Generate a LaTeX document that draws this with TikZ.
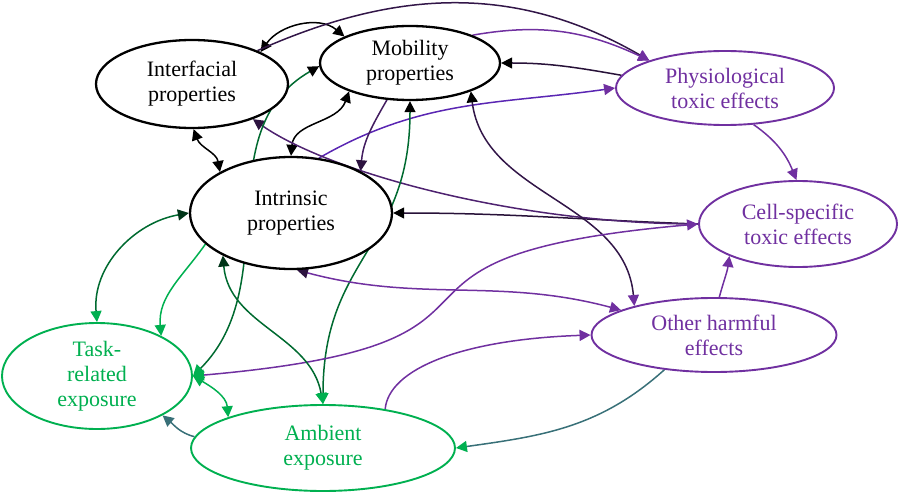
\documentclass[tikz,border=0pt]{standalone}
\usepackage{fontspec}
\setmainfont{Liberation Serif}
\usetikzlibrary{shapes.geometric, arrows.meta, backgrounds}

\definecolor{purp}{RGB}{112,48,160}
\definecolor{grn}{RGB}{0,176,80}

\begin{document}
\begin{tikzpicture}[
  x=1pt, y=-1pt,
  % ---- styles ----
  factor/.style={%
    ellipse, draw=#1, text=#1, fill=white, line width=1.9pt,
    inner sep=0pt, align=center, font=\fontsize{22}{25}\selectfont,
  },
  link/.style={draw=#1, line width=1.5pt},
  % ---- arrow tips ----
  tk/.tip={Triangle[length=11pt,width=11pt,color=black]},
  tp/.tip={Triangle[length=11pt,width=11pt,color=purp]},
  tg/.tip={Triangle[length=11pt,width=11pt,color=grn]},
  tdp/.tip={Triangle[length=11pt,width=11pt,color=purp!40!black]},
  tdg/.tip={Triangle[length=11pt,width=11pt,color=grn!30!black]},
  tm/.tip={Triangle[length=11pt,width=11pt,color=purp!50!grn]},
]

% ---- colour palette ----
\colorlet{Cdp}{purp!45!black}   % purple fading to black
\colorlet{Cdg}{grn!60!black}    % green fading to black
\colorlet{Cpg}{purp!50!grn}     % purple fading to green

\useasboundingbox (0,0) rectangle (901,494);

% =========================================================
% properties  (black)
% =========================================================
\node[factor=black, line width=2.3pt, minimum width=192pt, minimum height=88pt] (inter) at (192,84)  {Interfacial\\properties};
\node[factor=black, line width=2.3pt, minimum width=180pt, minimum height=74pt] (mob)   at (410,63)  {Mobility\\properties};
\node[factor=black, line width=2.3pt, minimum width=202pt, minimum height=112pt] (intr) at (291,213) {Intrinsic\\properties};

% =========================================================
% effects  (purple)
% =========================================================
\node[factor=purp, minimum width=218pt, minimum height=74pt] (phys)  at (725,88)  {Physiological\\toxic effects};
\node[factor=purp, minimum width=198pt, minimum height=86pt] (cell)  at (798,224) {Cell-specific\\toxic effects};
\node[factor=purp, minimum width=245pt, minimum height=74pt] (other) at (714,335) {Other harmful\\effects};

% =========================================================
% exposure  (green)
% =========================================================
\node[factor=grn, minimum width=190pt, minimum height=106pt] (task) at (97,376)  {Task-\\related\\exposure};
\node[factor=grn, minimum width=264pt, minimum height=86pt]  (amb)  at (323,448) {Ambient\\exposure};

% =========================================================
% links  (behind the ellipses)
% =========================================================
\begin{scope}[on background layer]
% top row
\draw[link=black, tk-tk]   (inter.25) to[out=55,in=140] (mob.158);
\draw[link=Cdp, -tp]       (inter.27) to[out=24,in=150] (phys.160);
\draw[link=purp, -tp]      (mob.24) to[out=10,in=155] (phys.160);
\draw[link=purp!35!black, -tk] (phys.173) to[out=170,in=0] (mob.0);
\draw[link=purp!80!blue, -tp]  (intr.63) to[out=30,in=188] (phys.180);
\draw[link=purp, -tp]      (phys.-52) to[out=-35,in=112] (cell.92);

% around intrinsic
\draw[link=black, tk-tk]   (inter.-88) to[out=-70,in=100] (intr.150);
\draw[link=black, tk-tk]   (intr.90) to[out=85,in=250] (mob.205);
\draw[link=purp!60!black, -tdp] (mob.238) to[out=240,in=85] (intr.31);
\draw[link=purp!35!black, -tk]  (cell.180) to[out=178,in=0] (intr.0);
\draw[link=purp!70!black, -tdp] (cell.180)
    to[out=180,in=-35,out distance=178pt,in distance=95pt] (inter.-30);

% mobility downwards
\draw[link=Cdg, tg-tk]     (task.0) to[out=45,in=210] (mob.182);
\draw[link=Cdg, tk-tg]     (mob.270) to[out=270,in=90,looseness=1.2] (amb.90);
\draw[link=Cdp, tk-tp]     (mob.335) to[out=-83,in=95] (other.160);

% effects
\draw[link=purp, tdp-tp]   (intr.-84) to[out=-15,in=165] (other.165);
\draw[link=purp, -tp]      (amb.32)
    to[out=85,in=182,out distance=40pt,in distance=130pt] (other.180);
\draw[link=Cpg, -tg]       (other.215) to[out=222,in=8] (amb.0);
\draw[link=purp, -tp]      (other.82) to[out=75,in=262] (cell.205);
\draw[link=purp, tg-tp]    (task.0) to[out=5,in=185,distance=380pt] (cell.180);

% exposure
\draw[link=Cdg, tdg-tg]    (intr.180) to[out=190,in=95] (task.90);
\draw[link=grn, -tg]       (intr.200) to[out=235,in=95] (task.32);
\draw[link=Cdg, tdg-tg]    (intr.212) to[out=275,in=100] (amb.90);
\draw[link=grn, tg-tg]     (task.0) to[out=-30,in=95] (amb.162);
\draw[link=Cpg, -tm]       (amb.175) to[out=165,in=-40] (task.-31);
\end{scope}

\end{tikzpicture}
\end{document}
